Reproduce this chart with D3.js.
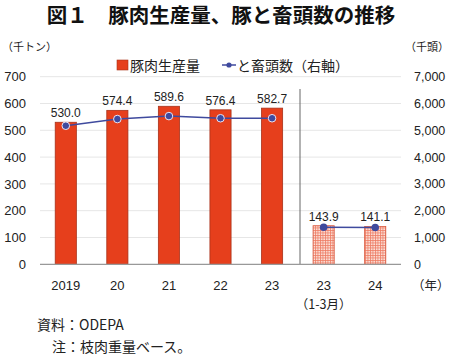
<!DOCTYPE html>
<html><head><meta charset="utf-8">
<script src="https://cdn.jsdelivr.net/npm/d3@7"></script>
<style>body{margin:0;background:#fff}svg{display:block;font-family:"Noto Sans CJK JP","Noto Sans",sans-serif}</style>
</head><body><svg id="c" width="450" height="359"></svg>
<script>
const categories = ["2019","20","21","22","23","23","24"];
const subLabels = ["","","","","","（1-3月）",""];
const production = [530.0,574.4,589.6,576.4,582.7,143.9,141.1];
const slaughter = [5170,5420,5530,5450,5450,1380,1375];
const hatched = [false,false,false,false,false,true,true];
const leftTicks = [0,100,200,300,400,500,600,700];
const rightTicks = [0,1000,2000,3000,4000,5000,6000,7000];

const svg = d3.select("#c");
const L=40,R=401,T=76.7,B=264.3;
const x = d3.scaleBand().domain(d3.range(categories.length)).range([L,R]).paddingInner(0.59).paddingOuter(0.295);
const y = d3.scaleLinear().domain([0,700]).range([B,T]);
const y2 = d3.scaleLinear().domain([0,7000]).range([B,T]);

const defs = svg.append("defs");
const pat = defs.append("pattern").attr("id","hatch").attr("patternUnits","userSpaceOnUse").attr("width",2.5).attr("height",2.5);
pat.append("rect").attr("width",2.5).attr("height",2.5).attr("fill","#fbe3dc");
pat.append("path").attr("d","M0,0.5H2.5M0.5,0V2.5").attr("stroke","#ee7a62").attr("stroke-width",0.8);

// title
svg.append("text").attr("x",221).attr("y",23).attr("text-anchor","middle").attr("font-size",20.5).attr("font-weight","bold").attr("fill","#111").text("図１　豚肉生産量、豚と畜頭数の推移");
svg.append("text").attr("x",2).attr("y",51).attr("font-size",11).attr("fill","#222").text("（千トン）");
svg.append("text").attr("x",449).attr("y",51).attr("text-anchor","end").attr("font-size",11).attr("fill","#222").text("（千頭）");

// grid
svg.append("g").selectAll("line").data(leftTicks.slice(1)).join("line")
 .attr("x1",L).attr("x2",R).attr("y1",d=>y(d)).attr("y2",d=>y(d)).attr("stroke","#e6e6e6").attr("stroke-width",1);

// axes
const ya = svg.append("g").attr("transform",`translate(${L},0)`).call(d3.axisLeft(y).tickValues(leftTicks).tickSize(0).tickPadding(14).tickFormat(d3.format("d")));
ya.select(".domain").remove();
ya.selectAll("text").attr("font-size",13).attr("fill","#222").attr("font-family","Liberation Sans, Arial, sans-serif");
const yb = svg.append("g").attr("transform",`translate(${R},0)`).call(d3.axisRight(y2).tickValues(rightTicks).tickSize(0).tickPadding(13).tickFormat(d3.format(",")));
yb.select(".domain").remove();
yb.selectAll("text").attr("font-size",12.5).attr("fill","#222").attr("font-family","Liberation Sans, Arial, sans-serif");

// divider
svg.append("line").attr("x1",300).attr("x2",300).attr("y1",89).attr("y2",B).attr("stroke","#666").attr("stroke-width",1);

// bars
svg.append("g").selectAll("rect").data(production).join("rect")
 .attr("x",(d,i)=>x(i)).attr("width",x.bandwidth()).attr("y",d=>y(d)).attr("height",d=>B-y(d))
 .attr("fill",(d,i)=>hatched[i]?"url(#hatch)":"#e63f1c").attr("stroke",(d,i)=>hatched[i]?"#d9573c":"#a8321a").attr("stroke-width",0.8);

// baseline
svg.append("line").attr("x1",L).attr("x2",R).attr("y1",B).attr("y2",B).attr("stroke","#999").attr("stroke-width",1.2);

// labels
svg.append("g").selectAll("text").data(production).join("text")
 .attr("x",(d,i)=>x(i)+x.bandwidth()/2).attr("y",d=>y(d)-5).attr("text-anchor","middle")
 .attr("font-size",12).attr("fill","#222").attr("font-family","Liberation Sans, Arial, sans-serif").text(d=>d.toFixed(1));

// line
const line = d3.line().x((d,i)=>x(i)+x.bandwidth()/2).y(d=>y2(d));
svg.append("path").attr("d",line(slaughter.slice(0,5))).attr("fill","none").attr("stroke","#3f4a9e").attr("stroke-width",1.5);
svg.append("path").attr("d",d3.line().x((d,i)=>x(i+5)+x.bandwidth()/2).y(d=>y2(d))(slaughter.slice(5))).attr("fill","none").attr("stroke","#3f4a9e").attr("stroke-width",1.5);
svg.append("g").selectAll("circle").data(slaughter).join("circle")
 .attr("cx",(d,i)=>x(i)+x.bandwidth()/2).attr("cy",d=>y2(d)).attr("r",3.8)
 .attr("fill","#3f4a9e").attr("stroke",(d,i)=>hatched[i]?"none":"#e8e4f4").attr("stroke-width",1);

// x labels
svg.append("g").selectAll("text").data(categories).join("text")
 .attr("x",(d,i)=>x(i)+x.bandwidth()/2).attr("y",290).attr("text-anchor","middle")
 .attr("font-size",13).attr("fill","#222").attr("font-family","Liberation Sans, Arial, sans-serif").text(d=>d);
svg.append("g").selectAll("text").data(subLabels).join("text")
 .attr("x",(d,i)=>x(i)+x.bandwidth()/2).attr("y",309).attr("text-anchor","middle")
 .attr("font-size",12.5).attr("fill","#222").text(d=>d);
svg.append("text").attr("x",412).attr("y",290).attr("font-size",12.5).attr("fill","#222").text("（年）");

// legend
svg.append("rect").attr("x",117).attr("y",60).attr("width",11).attr("height",10).attr("fill","#e63f1c").attr("stroke","#a8321a").attr("stroke-width",0.6);
svg.append("text").attr("x",130).attr("y",70.5).attr("font-size",14).attr("fill","#222").text("豚肉生産量");
svg.append("line").attr("x1",222).attr("x2",236).attr("y1",65).attr("y2",65).attr("stroke","#3f4a9e").attr("stroke-width",1.5);
svg.append("circle").attr("cx",229).attr("cy",65).attr("r",2.6).attr("fill","#3f4a9e");
svg.append("text").attr("x",237).attr("y",70.5).attr("font-size",14).attr("fill","#222").text("と畜頭数（右軸）");

// footer
svg.append("text").attr("x",37).attr("y",330).attr("font-size",14).attr("fill","#222").text("資料：ODEPA");
svg.append("text").attr("x",52).attr("y",352).attr("font-size",14).attr("fill","#222").text("注：枝肉重量ベース。");
</script></body></html>
